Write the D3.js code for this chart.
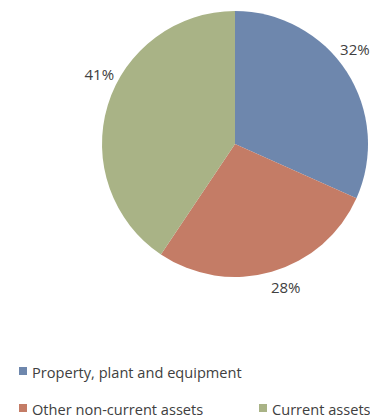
<!DOCTYPE html>
<html><head><meta charset="utf-8">
<script src="https://cdn.jsdelivr.net/npm/d3@7"></script>
<style>body{margin:0;background:#fff;}svg{display:block;}</style>
</head><body>
<svg id="c" width="370" height="419"></svg>
<script>
const categories = ["Property, plant and equipment", "Other non-current assets", "Current assets"];
const values = [32, 28, 41];
const labels = ["32%", "28%", "41%"];
const colors = ["#6e87ad", "#c47c66", "#a9b386"];

const svg = d3.select("#c");
const cx = 235, cy = 144, R = 133;
const pie = d3.pie().sort(null).value(d => d)(values);
const arc = d3.arc().innerRadius(0).outerRadius(R);
const g = svg.append("g").attr("transform", `translate(${cx},${cy})`);
g.selectAll("path").data(pie).join("path")
  .attr("d", arc).attr("fill", (d, i) => colors[i]);

const font = "'Open Sans', sans-serif";
// label placement: radius and small angular nudges (degrees) to mimic best-fit placement
const lr = 152.5;
const nudge = [-5.2, -3.4, 10.2];
g.selectAll("text").data(pie).join("text")
  .each(function(d, i) {
    const a = (d.startAngle + d.endAngle) / 2 + nudge[i] * Math.PI / 180;
    d3.select(this).attr("x", lr * Math.sin(a)).attr("y", -lr * Math.cos(a));
  })
  .attr("dy", "0.35em").attr("text-anchor", "middle")
  .attr("font-family", font).attr("font-size", 15).attr("fill", "#404040")
  .text((d, i) => labels[i]);

const legendItems = [
  {i: 0, x: 19, y: 373},
  {i: 1, x: 19, y: 410},
  {i: 2, x: 259, y: 410}
];
const lg = svg.append("g");
legendItems.forEach(it => {
  lg.append("rect").attr("x", it.x).attr("y", it.y - 6).attr("width", 8).attr("height", 8).attr("fill", colors[it.i]);
  lg.append("text").attr("x", it.x + 13).attr("y", it.y).attr("dy", "0.35em")
    .attr("font-family", font).attr("font-size", 14.6).attr("fill", "#404040").text(categories[it.i]);
});
</script>
</body></html>
